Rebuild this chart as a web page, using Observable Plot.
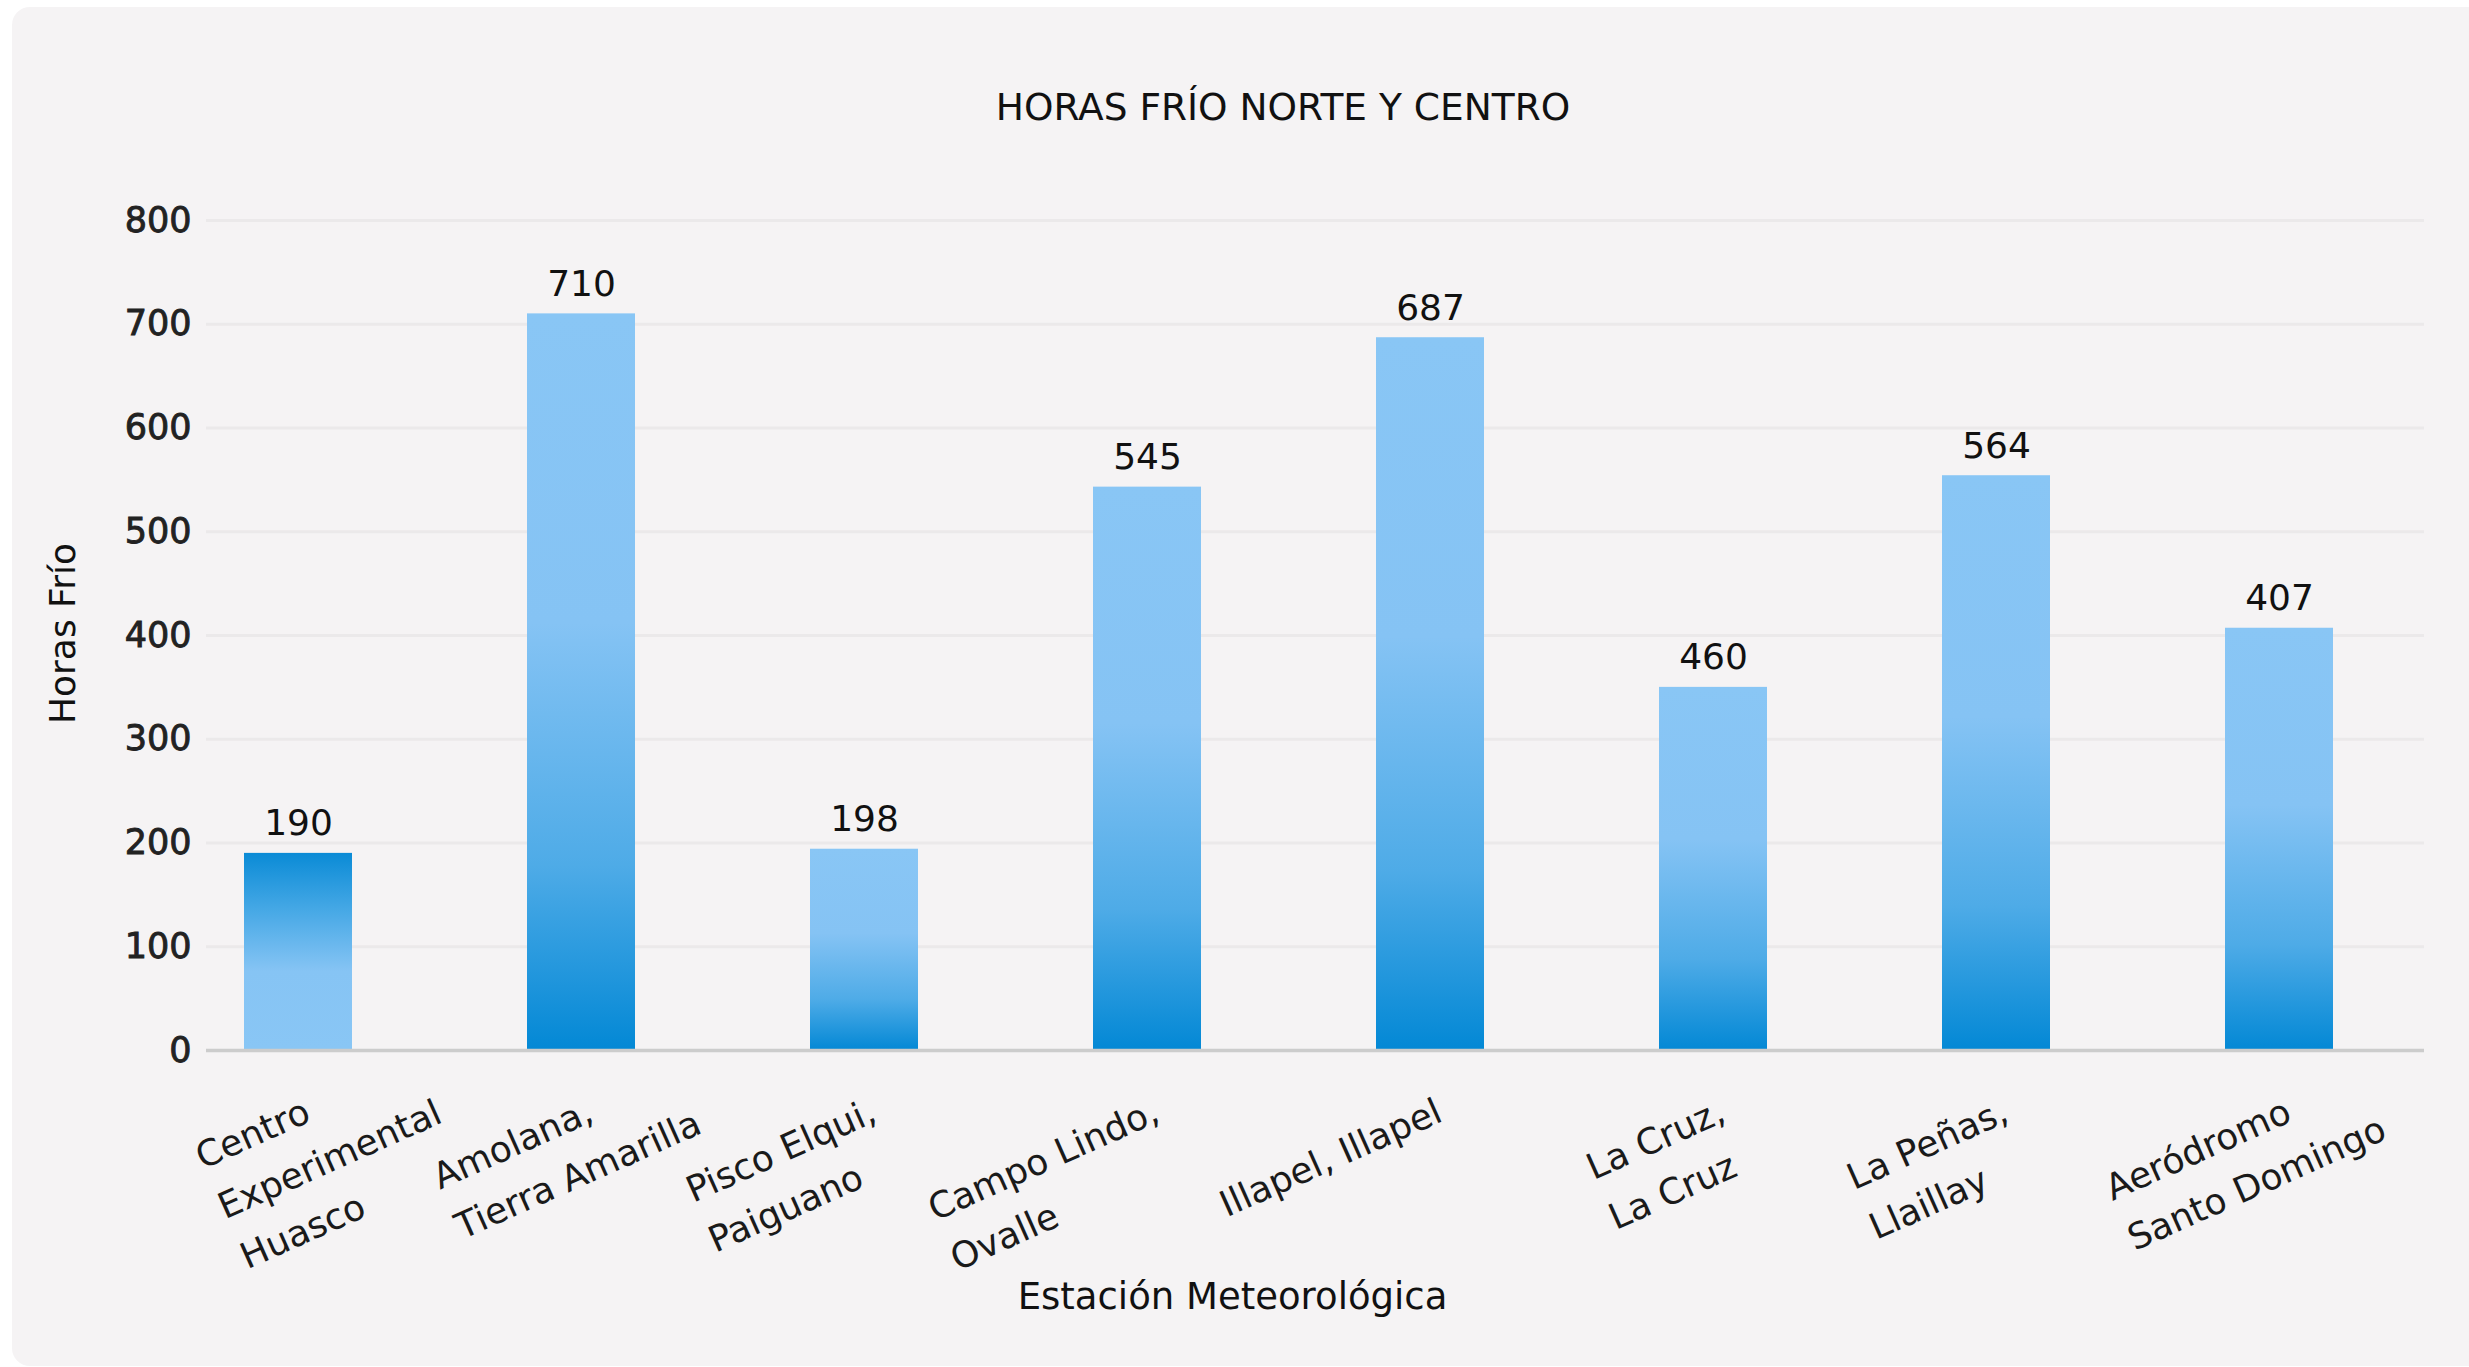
<!DOCTYPE html>
<html>
<head>
<meta charset="utf-8">
<script src="https://cdn.jsdelivr.net/npm/d3@7"></script>
<script src="https://cdn.jsdelivr.net/npm/@observablehq/plot@0.6"></script>
<style>
  html, body { margin: 0; padding: 0; background: #ffffff; }
  body { width: 2469px; height: 1367px; overflow: hidden; position: relative; font-family: "DejaVu Sans", sans-serif; }
  #card { position: absolute; left: 12px; top: 7px; width: 2500px; height: 1359px; border-radius: 18px; background: #f5f3f4; }
  #title { position: absolute; left: 0; top: 87px; width: 2566px; text-align: center; font-size: 37.5px; line-height: 40px; color: #111; }
  #chart { position: absolute; left: 0; top: 150px; }
  #chart g[aria-label="y-axis tick label"] { stroke: #222; stroke-width: 0.9px; }
</style>
</head>
<body>
<div id="card"></div>
<div id="title"></div>
<div id="chart"></div>
<script>
// ---- data ----
const chartTitle = "HORAS FRÍO NORTE Y CENTRO";
const xTitle = "Estación Meteorológica";
const yTitle = "Horas Frío";
const categories = [
  "Centro\nExperimental\nHuasco",
  "Amolana,\nTierra Amarilla",
  "Pisco Elqui,\nPaiguano",
  "Campo Lindo,\nOvalle",
  "Illapel, Illapel",
  "La Cruz,\nLa Cruz",
  "La Peñas,\nLlaillay",
  "Aeródromo\nSanto Domingo"
];
const barValues   = [190, 710, 194, 543, 687, 350, 554, 407];
const labelValues = [190, 710, 198, 545, 687, 460, 564, 407];
const yTicks = [0, 100, 200, 300, 400, 500, 600, 700, 800];

// ---- build ----
document.getElementById("title").textContent = chartTitle;

const rows = categories.map((station, i) => ({station, value: barValues[i], label: labelValues[i]}));

const W = 2469, H = 1217;
const FONT = "DejaVu Sans";
const FS = 36;
const LH = 1.52;
const ANG = 24;
const rad = ANG * Math.PI / 180;

const ctx = document.createElement("canvas").getContext("2d");
ctx.font = `${FS}px "${FONT}"`;

const svgns = "http://www.w3.org/2000/svg";
function gradientDefs() {
  const defs = document.createElementNS(svgns, "defs");
  defs.innerHTML = `
    <linearGradient id="gUp" x1="0" y1="0" x2="0" y2="1">
      <stop offset="0" stop-color="#89c6f5"/>
      <stop offset="0.42" stop-color="#85c3f4"/>
      <stop offset="0.75" stop-color="#4eabe7"/>
      <stop offset="1" stop-color="#0388d5"/>
    </linearGradient>
    <linearGradient id="gDown" x1="0" y1="0" x2="0" y2="1">
      <stop offset="0" stop-color="#0a8bd6"/>
      <stop offset="0.3" stop-color="#48a9e6"/>
      <stop offset="0.6" stop-color="#86c4f4"/>
      <stop offset="1" stop-color="#89c6f5"/>
    </linearGradient>`;
  return defs;
}

// x tick label marks: first line ends near the tick, following lines left-aligned with it
const labelMarks = categories.map((c) => {
  const first = c.split("\n")[0];
  const w1 = ctx.measureText(first).width;
  const d = 0.71 * LH * FS;
  const px = 14, py = 70;               // end of first line relative to tick / baseline
  const sx = px - w1 * Math.cos(rad);
  const sy = py + w1 * Math.sin(rad);
  const ax = sx - d * Math.sin(rad);
  const ay = sy - d * Math.cos(rad);
  return Plot.text([c], {
    x: (v) => v, frameAnchor: "bottom", text: (v) => v,
    rotate: -ANG, textAnchor: "start", lineAnchor: "top", lineHeight: LH,
    fontSize: FS, fill: "#1a1a1a", dx: ax, dy: ay
  });
});

const chart = Plot.plot({
  width: W,
  height: H,
  marginLeft: 206,
  marginRight: 45,
  marginTop: 70,
  marginBottom: 317,
  style: {background: "transparent", fontFamily: FONT, overflow: "visible"},
  x: {domain: categories, range: [154, 2422], paddingInner: 0.619, paddingOuter: 0.31, axis: null},
  y: {domain: [0, 800]},
  marks: [
    gradientDefs,
    Plot.ruleY(yTicks, {stroke: "#ebe9ea", strokeWidth: 3}),
    Plot.barY(rows, {x: "station", y: "value", filter: (d, i) => i === 0, fill: "url(#gDown)"}),
    Plot.barY(rows, {x: "station", y: "value", filter: (d, i) => i !== 0, fill: "url(#gUp)"}),
    Plot.ruleY([0], {stroke: "#cccccc", strokeWidth: 3.5}),
    Plot.text(rows, {x: "station", y: "value", text: (d) => String(d.label), lineAnchor: "bottom", dy: -18, fontSize: FS, fill: "#111"}),
    Plot.axisY(yTicks, {tickSize: 0, tickPadding: 15, fontSize: 35, fontWeight: "normal", fill: "#222", label: null}),
    ...labelMarks,
    Plot.text([xTitle], {frameAnchor: "bottom", text: (d) => d, dx: -83, dy: 247, fontSize: 37, fill: "#111", textAnchor: "middle", lineAnchor: "middle"}),
    Plot.text([yTitle], {frameAnchor: "left", text: (d) => d, rotate: -90, dx: -143, dy: -2, fontSize: FS, fill: "#111", textAnchor: "middle", lineAnchor: "middle"})
  ]
});
document.getElementById("chart").appendChild(chart);
</script>
</body>
</html>
